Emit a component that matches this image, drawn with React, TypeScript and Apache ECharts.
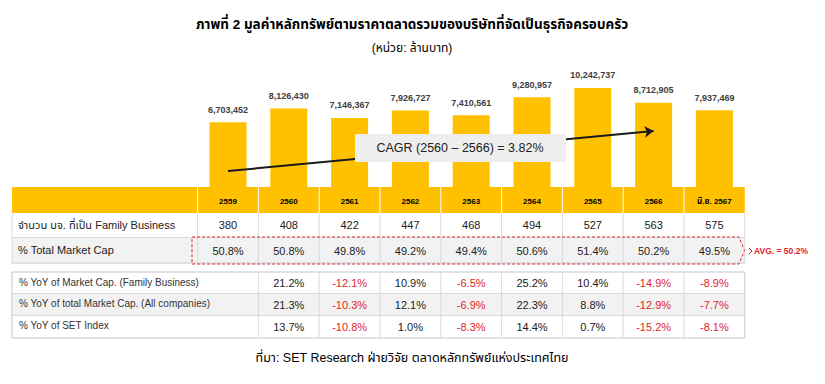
import React, { useEffect, useRef } from "react";
import * as echarts from "echarts";

const years = ["2559", "2560", "2561", "2562", "2563", "2564", "2565", "2566", "มิ.ย. 2567"];
const marketCap = [6703452, 8126430, 7146367, 7926727, 7410561, 9280957, 10242737, 8712905, 7937469];
const familyCount = [380, 408, 422, 447, 468, 494, 527, 563, 575];
const pctTotal = [50.8, 50.8, 49.8, 49.2, 49.4, 50.6, 51.4, 50.2, 49.5];
const yoyFamily = [null, 21.2, -12.1, 10.9, -6.5, 25.2, 10.4, -14.9, -8.9];
const yoyAll = [null, 21.3, -10.3, 12.1, -6.9, 22.3, 8.8, -12.9, -7.7];
const yoySet = [null, 13.7, -10.8, 1.0, -8.3, 14.4, 0.7, -15.2, -8.1];
const avgPct = 50.2;
const cagrText = "CAGR (2560 – 2566) = 3.82%";
const cagrArrowFrom: [string, number] = ["2559", 1650000];
const cagrArrowTo: [string, number] = ["2566", 5790000];

const titleText = "ภาพที่ 2 มูลค่าหลักทรัพย์ตามราคาตลาดรวมของบริษัทที่จัดเป็นธุรกิจครอบครัว";
const subtitleText = "(หน่วย: ล้านบาท)";
const footerText = "ที่มา: SET Research ฝ่ายวิจัย ตลาดหลักทรัพย์แห่งประเทศไทย";
const rowLabels = ["จำนวน บจ. ที่เป็น Family Business", "% Total Market Cap"];
const lowerLabels = [
  "% YoY of Market Cap. (Family Business)",
  "% YoY of total Market Cap. (All companies)",
  "% YoY of SET Index",
];

const FONT = "'Liberation Sans', Arial, 'Noto Sans Thai', sans-serif";
const YELLOW = "#FFC000";
const RED = "#e0262b";
const BORDER = "#d9d9d9";
const GRAY = "#f2f2f2";

const GRID_LEFT = 197.6;
const GRID_W = 547.2;
const COL_W = GRID_W / years.length;
const TBL_L = 12;
const TBL_R = GRID_LEFT + GRID_W;

function txt(x: number, y: number, text: string, o: any = {}) {
  return {
    type: "text",
    x,
    y,
    z: o.z ?? 50,
    silent: true,
    style: {
      text,
      fill: o.fill ?? "#222",
      fontSize: o.fontSize ?? 11,
      fontWeight: o.fontWeight ?? "normal",
      fontFamily: FONT,
      textAlign: o.align ?? "center",
      textVerticalAlign: "middle",
    },
  };
}
function hline(x1: number, x2: number, y: number, stroke = BORDER, w = 1, z = 20) {
  return { type: "line", z, silent: true, shape: { x1, y1: y, x2, y2: y }, style: { stroke, lineWidth: w } };
}
function vline(x: number, y1: number, y2: number, stroke = BORDER, w = 1, z = 20) {
  return { type: "line", z, silent: true, shape: { x1: x, y1, x2: x, y2 }, style: { stroke, lineWidth: w } };
}
function rect(x: number, y: number, w: number, h: number, fill: string, z = 10) {
  return { type: "rect", z, silent: true, shape: { x, y, width: w, height: h }, style: { fill } };
}
const fmtPct = (v: number) => v.toFixed(1) + "%";

function buildGraphics() {
  const g: any[] = [];
  const colC = (i: number) => GRID_LEFT + COL_W * (i + 0.5);
  const colB = (i: number) => GRID_LEFT + COL_W * i;

  // title
  g.push(txt(412, 24, titleText, { fontSize: 13.5, fontWeight: "bold", fill: "#000" }));
  g.push(txt(412, 48, subtitleText, { fontSize: 12, fill: "#000" }));

  // CAGR box
  g.push({ type: "rect", z: 60, silent: true, shape: { x: 355, y: 134, width: 211, height: 28 }, style: { fill: "#eeeeee" } });
  g.push(txt(460, 148, cagrText, { fontSize: 12.5, fill: "#222", z: 61 }));

  // top table
  const H0 = 187, H1 = 213, R1 = 237.5, R2 = 263;
  g.push(rect(TBL_L, H0, TBL_R - TBL_L, H1 - H0, YELLOW));
  g.push(rect(TBL_L, H1, TBL_R - TBL_L, R1 - H1, "#ffffff"));
  g.push(rect(TBL_L, R1, TBL_R - TBL_L, R2 - R1, GRAY));
  for (let i = 0; i <= years.length; i++) {
    const x = colB(i);
    if (i < years.length) g.push(vline(x, H0, H1, "#ffffff", 1));
    g.push(vline(x, H1, R2));
  }
  g.push(vline(TBL_L, H1, R2));
  g.push(hline(TBL_L, TBL_R, R1));
  g.push(hline(TBL_L, TBL_R, R2, BORDER, 1.5));
  years.forEach((y, i) => {
    g.push(txt(colC(i), 201, y, { fontSize: 8, fontWeight: "bold", fill: "#000" }));
    g.push(txt(colC(i), 225, String(familyCount[i]), { fontSize: 11 }));
    g.push(txt(colC(i), 251, fmtPct(pctTotal[i]), { fontSize: 11 }));
  });
  g.push(txt(18, 225, rowLabels[0], { fontSize: 11, align: "left" }));
  g.push(txt(18, 250, rowLabels[1], { fontSize: 11, align: "left" }));

  // dashed avg bracket
  g.push({
    type: "polygon",
    z: 70,
    silent: true,
    shape: { points: [[192, 237], [739, 237], [744.5, 250.5], [739, 264], [192, 264]] },
    style: { fill: null, stroke: RED, lineWidth: 1, lineDash: [3, 2] },
  });
  g.push({
    type: "polyline",
    z: 70,
    silent: true,
    shape: { points: [[749, 248], [752, 251], [749, 254]] },
    style: { stroke: RED, lineWidth: 1, fill: null },
  });
  g.push(txt(754, 251, "AVG. = " + avgPct.toFixed(1) + "%", { fontSize: 8.5, fontWeight: "bold", fill: RED, align: "left" }));

  // lower table
  const L0 = 272, L1 = 293.5, L2 = 315.5, L3 = 338;
  g.push(rect(TBL_L, L0, TBL_R - TBL_L, L1 - L0, "#ffffff"));
  g.push(rect(TBL_L, L1, TBL_R - TBL_L, L2 - L1, GRAY));
  g.push(rect(TBL_L, L2, TBL_R - TBL_L, L3 - L2, "#ffffff"));
  [L0, L1, L2, L3].forEach((y, k) => g.push(hline(TBL_L, TBL_R, y, BORDER, k === 0 || k === 3 ? 1.5 : 1)));
  g.push(vline(TBL_L, L0, L3, BORDER, 1.5));
  g.push(vline(TBL_R, L0, L3, BORDER, 1.5));
  for (let i = 1; i < years.length; i++) g.push(vline(colB(i), L0, L3));
  const lowerRows = [yoyFamily, yoyAll, yoySet];
  const rowYs = [283, 304.5, 326.5];
  lowerRows.forEach((arr, r) => {
    g.push(txt(19, rowYs[r] - 1, lowerLabels[r], { fontSize: 10, align: "left", fill: "#333" }));
    arr.forEach((v, i) => {
      if (v === null) return;
      g.push(txt(colC(i), rowYs[r], fmtPct(v as number), { fontSize: 11, fill: (v as number) < 0 ? RED : "#222" }));
    });
  });

  // footer
  g.push(txt(412, 358, footerText, { fontSize: 12.5, fill: "#000" }));
  return g;
}

export default function App() {
  const ref = useRef<HTMLDivElement>(null);
  useEffect(() => {
    if (!ref.current) return;
    const chart = echarts.init(ref.current, null, { renderer: "svg" });
    chart.setOption({
      animation: false,
      backgroundColor: "#ffffff",
      grid: { left: GRID_LEFT, top: 71, width: GRID_W, height: 116 },
      xAxis: {
        type: "category",
        data: years,
        show: false,
      },
      yAxis: { type: "value", min: 0, max: 12000000, show: false },
      series: [
        {
          type: "bar",
          data: marketCap,
          barWidth: 37,
          itemStyle: { color: YELLOW },
          label: {
            show: true,
            position: "top",
            distance: 8,
            fontSize: 9,
            fontWeight: "bold",
            fontFamily: FONT,
            color: "#404040",
            formatter: (p: any) => Number(p.value).toLocaleString("en-US"),
          },
          markLine: {
            silent: true,
            symbol: ["none", "arrow"],
            symbolSize: 9,
            symbolOffset: 0,
            label: { show: false },
            lineStyle: { color: "#1a1a1a", width: 2, type: "solid", opacity: 1 },
            itemStyle: { color: "#1a1a1a" },
            emphasis: { disabled: true },
            data: [[{ coord: cagrArrowFrom }, { coord: cagrArrowTo }]],
          },
        },
      ],
      graphic: buildGraphics(),
    });
    return () => chart.dispose();
  }, []);
  return (
    <div
      ref={ref}
      style={{ position: "fixed", left: 0, top: 0, width: 825, height: 384 }}
    />
  );
}
